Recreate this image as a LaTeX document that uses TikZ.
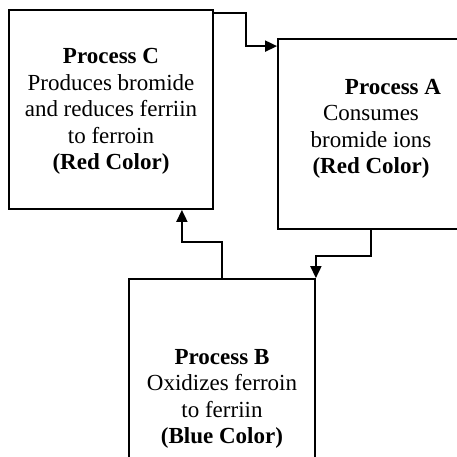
\documentclass[tikz,border=0pt]{standalone}
\usepackage{fontspec}
\setmainfont{Liberation Serif}
\usepackage{tikz}
\usetikzlibrary{arrows.meta}
\begin{document}
\begin{tikzpicture}[x=1pt,y=-1pt,proc/.style={rectangle,draw,line width=1.8pt},txt/.style={align=center,font=\fontsize{23}{26.5}\selectfont},flow/.style={line width=1.8pt,-{Triangle[length=12pt,width=11pt]}}]
		\useasboundingbox (0,0) rectangle (457,456);
		\clip (0,0) rectangle (457,456);
		\node (C)[proc,minimum width=204pt,minimum height=199pt] at (111,109.5){};
		\node (A)[proc,minimum width=186pt,minimum height=190pt] at (371,134){};
		\node (B)[proc,minimum width=186pt,minimum height=240pt] at (222,399){};
		\node (Ctext)[txt] at ([yshift=-2pt]C.center){\textbf{Process C}\\Produces bromide\\and reduces ferriin\\to ferroin\\\textbf{(Red Color)}};
		\node (Atext)[txt] at ([yshift=5pt]A.center){\hspace*{44pt}\textbf{Process A}\\Consumes\\bromide ions\\\textbf{(Red Color)}};
		\node (Btext)[txt] at (B.center){\textbf{Process B}\\Oxidizes ferroin\\to ferriin\\\textbf{(Blue Color)}};
		\draw[flow] ([yshift=-4pt]C.north east) -- ++(32,0) |- ([yshift=-8pt]A.north west);
		\draw[flow] (A.south) -- ++(0,26) -| (B.north east);
		\draw[flow] (B.north) -- ++(0,-36) -| ([xshift=-32pt]C.south east);
\end{tikzpicture}
\end{document}
